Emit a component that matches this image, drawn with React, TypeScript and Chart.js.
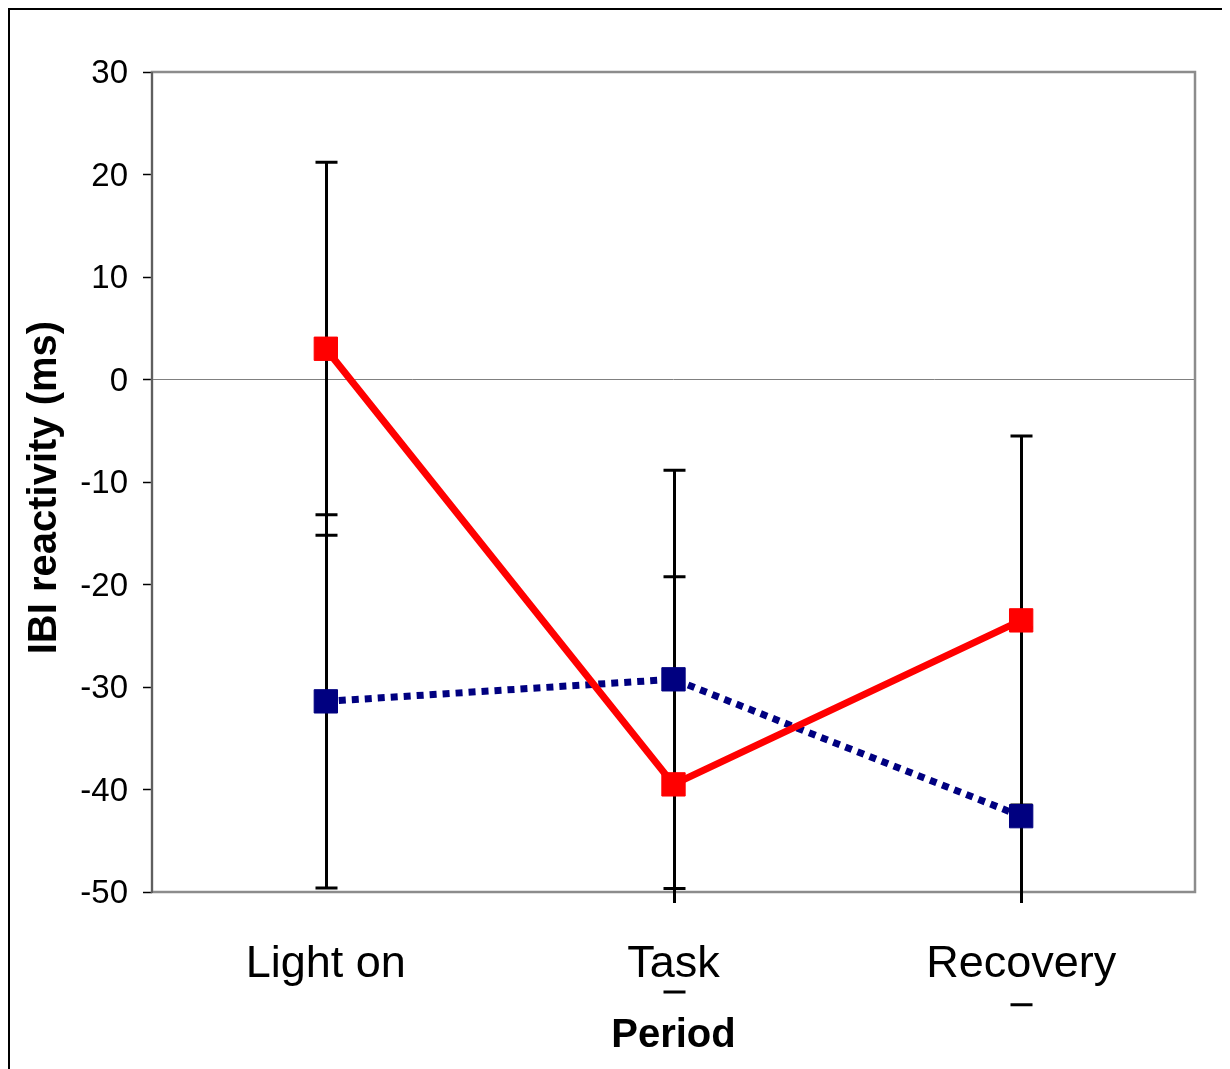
import React, { useEffect, useRef } from "react";
import { Chart, registerables } from "chart.js";

Chart.register(...registerables);

const categories = ["Light on", "Task", "Recovery"];
const redValues = [3.0, -39.5, -23.5];
const redErrors = [18.2, 20.25, 18.0];
const blueValues = [-31.4, -29.25, -42.6];
const blueErrors = [18.2, 20.4, 18.4];
const yTicks = [30, 20, 10, 0, -10, -20, -30, -40, -50];

const FONT = "'Liberation Sans', Arial, Helvetica, sans-serif";

const frameAndErrorBars = {
  id: "frameAndErrorBars",
  beforeDatasetsDraw(chart: any) {
    const { ctx, chartArea, scales } = chart;
    const xs = scales.x;
    const ys = scales.y;
    const { left, top, right, bottom } = chartArea;

    ctx.save();
    ctx.strokeStyle = "#8c8c8c";
    ctx.lineWidth = 2.5;
    ctx.strokeRect(left, top, right - left, bottom - top);
    ctx.strokeStyle = "#5f5f5f";
    ctx.lineWidth = 2;
    ctx.beginPath();
    ctx.moveTo(left, top);
    ctx.lineTo(left, bottom + 1);
    ctx.stroke();
    ctx.restore();

    const series: [number[], number[]][] = [
      [redValues, redErrors],
      [blueValues, blueErrors],
    ];
    ctx.save();
    ctx.strokeStyle = "#000000";
    ctx.lineWidth = 3;
    series.forEach(([vals, errs]) => {
      vals.forEach((v, i) => {
        const px = Math.round(xs.getPixelForValue(i)) + 0.5;
        const yHi = ys.getPixelForValue(v + errs[i]);
        const yLo = ys.getPixelForValue(v - errs[i]);
        ctx.save();
        ctx.beginPath();
        ctx.rect(px - 20, top, 40, bottom + 11 - top);
        ctx.clip();
        ctx.beginPath();
        ctx.moveTo(px, yHi);
        ctx.lineTo(px, yLo);
        ctx.stroke();
        ctx.restore();
        ctx.beginPath();
        ctx.moveTo(px - 11, yHi);
        ctx.lineTo(px + 11, yHi);
        ctx.moveTo(px - 11, yLo);
        ctx.lineTo(px + 11, yLo);
        ctx.stroke();
      });
    });
    ctx.restore();
  },
};

export default function App() {
  const canvasRef = useRef<HTMLCanvasElement | null>(null);

  useEffect(() => {
    if (!canvasRef.current) return;
    const chart = new Chart(canvasRef.current, {
      type: "line",
      data: {
        labels: categories,
        datasets: [
          {
            label: "Red",
            data: redValues,
            borderColor: "#ff0000",
            backgroundColor: "#ff0000",
            borderWidth: 7,
            pointStyle: "rect",
            pointRadius: 16.5,
            pointBackgroundColor: "#ff0000",
            pointBorderColor: "#ff0000",
            pointBorderWidth: 1,
            tension: 0,
            fill: false,
          },
          {
            label: "Blue",
            data: blueValues,
            borderColor: "#000080",
            backgroundColor: "#000080",
            borderWidth: 7,
            borderDash: [7, 6],
            borderCapStyle: "butt",
            pointStyle: "rect",
            pointRadius: 16.5,
            pointBackgroundColor: "#000080",
            pointBorderColor: "#000080",
            pointBorderWidth: 1,
            tension: 0,
            fill: false,
          },
        ],
      },
      options: {
        responsive: false,
        animation: false,
        devicePixelRatio: 1,
        layout: { padding: { top: 62, right: 35, left: 0, bottom: 0 } },
        plugins: {
          legend: { display: false },
          tooltip: { enabled: false },
        },
        scales: {
          x: {
            type: "category",
            offset: true,
            grid: { display: false, drawTicks: false },
            border: { display: false },
            ticks: {
              color: "#000",
              font: { family: FONT, size: 45 },
              padding: 46,
              maxRotation: 0,
              autoSkip: false,
            },
            title: {
              display: true,
              text: "Period",
              color: "#000",
              font: { family: FONT, size: 40, weight: "bold" },
              padding: { top: 0, bottom: 9 },
            },
            afterFit: (s: any) => {
              s.height = 177;
            },
          },
          y: {
            min: -50,
            max: 30,
            afterBuildTicks: (s: any) => {
              s.ticks = yTicks.map((v) => ({ value: v }));
            },
            ticks: {
              color: "#000",
              font: { family: FONT, size: 33 },
              padding: 15,
              labelOffset: 2,
              callback: (v: any) => String(v),
            },
            grid: {
              color: (c: any) =>
                c.tick && c.tick.value === 0 ? "#808080" : "rgba(0,0,0,0)",
              tickColor: "#000",
              tickLength: 9,
              lineWidth: 1,
              tickWidth: 1.5,
            },
            border: { display: false },
            title: {
              display: true,
              text: "IBI reactivity (ms) ",
              color: "#000",
              font: { family: FONT, size: 40, weight: "bold" },
              padding: { top: 11, bottom: 0 },
            },
            afterFit: (s: any) => {
              s.width = 142;
            },
          },
        },
      },
      plugins: [frameAndErrorBars],
    } as any);
    return () => chart.destroy();
  }, []);

  return (
    <div
      style={{
        position: "relative",
        width: 1222,
        height: 1061,
        boxSizing: "border-box",
        borderLeft: "2px solid #000",
        borderTop: "2px solid #000",
        overflow: "hidden",
        background: "#fff",
      }}
    >
      <canvas
        ref={canvasRef}
        width={1220}
        height={1059}
        style={{ position: "absolute", left: 0, top: 0, width: 1220, height: 1059 }}
      />
    </div>
  );
}
